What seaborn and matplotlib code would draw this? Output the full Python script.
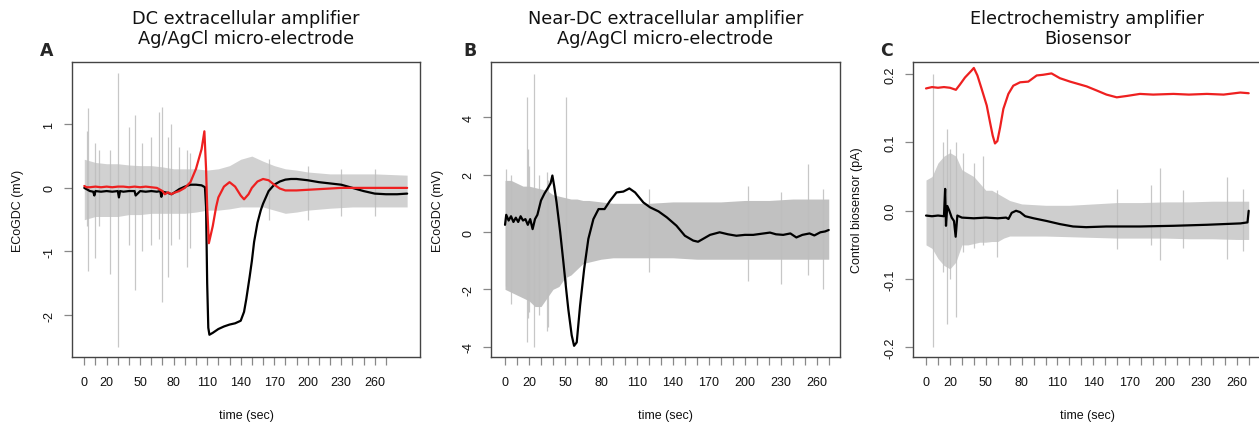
import numpy as np
import pandas as pd
import matplotlib
matplotlib.use("Agg")
import matplotlib.pyplot as plt
import seaborn as sns

# ---------------- data ----------------
# Panel A: DC extracellular amplifier
tA_black = [0,5,8,9,10,15,20,25,30,31,32,35,40,45,46,50,55,60,65,68,69,70,75,78,80,85,90,95,100,105,108,109,110,111,112,115,120,125,130,135,140,143,145,148,150,152,155,158,160,165,170,175,180,185,190,200,210,220,230,240,250,260,270,280,289]
vA_black = [0.0,-0.05,-0.06,-0.12,-0.05,-0.06,-0.05,-0.06,-0.05,-0.15,-0.05,-0.06,-0.05,-0.05,-0.12,-0.05,-0.06,-0.05,-0.06,-0.05,-0.14,-0.06,-0.08,-0.1,-0.08,-0.02,0.02,0.05,0.05,0.04,0.01,-0.3,-1.5,-2.2,-2.31,-2.28,-2.22,-2.18,-2.15,-2.13,-2.09,-1.95,-1.75,-1.4,-1.15,-0.85,-0.55,-0.35,-0.25,-0.05,0.05,0.1,0.13,0.14,0.14,0.12,0.09,0.07,0.05,0.0,-0.05,-0.09,-0.1,-0.1,-0.09]
tA_red = [0,2,5,10,15,20,25,30,35,40,45,50,55,60,65,70,72,75,78,80,85,90,95,100,105,107.5,109,110,111.5,115,118,120,125,130,135,140,143,147,150,155,160,165,170,175,180,190,200,210,220,230,250,270,289]
vA_red = [0.03,0.01,0.01,0.02,0.01,0.02,0.01,0.02,0.02,0.01,0.02,0.01,0.02,0.01,0.0,-0.05,-0.1,-0.07,-0.1,-0.08,-0.05,0.0,0.09,0.3,0.61,0.89,0.3,-0.3,-0.87,-0.6,-0.3,-0.15,0.02,0.09,0.02,-0.12,-0.18,-0.1,0.0,0.1,0.14,0.12,0.05,-0.01,-0.04,-0.04,-0.03,-0.02,-0.01,0.0,0.0,0.0,0.0]
tA_env = [0,10,20,30,40,50,60,70,80,90,100,110,120,130,140,150,160,170,180,190,200,220,240,260,289]
uA_env = [0.45,0.4,0.38,0.38,0.36,0.35,0.35,0.33,0.3,0.3,0.3,0.28,0.3,0.35,0.45,0.5,0.42,0.35,0.3,0.28,0.25,0.22,0.22,0.22,0.2]
lA_env = [-0.5,-0.45,-0.45,-0.45,-0.42,-0.42,-0.4,-0.4,-0.4,-0.4,-0.38,-0.35,-0.35,-0.33,-0.3,-0.3,-0.3,-0.35,-0.4,-0.38,-0.35,-0.32,-0.3,-0.3,-0.3]
tA_spk = [2,3,10,13,23,30,40,45,52,60,67,70,75,78,85,92,95,165,200,230,260]
uA_spk = [0.9,1.25,0.7,0.6,0.6,1.8,0.95,1.15,0.7,0.8,1.2,1.27,0.8,1.0,0.65,0.6,0.55,0.45,0.35,0.3,0.3]
lA_spk = [-0.6,-1.3,-1.1,-0.6,-1.35,-2.5,-0.9,-1.6,-1.0,-0.9,-0.8,-1.8,-1.4,-0.9,-0.8,-1.25,-0.95,-0.5,-0.5,-0.45,-0.45]

# Panel B: Near-DC extracellular amplifier
tB_black = [0,1,3,5,7,9,11,13,15,17,19,21,23,25,27,30,33,36,38,39.5,41,43,46,48.7,51,52.8,55.6,57.6,59.8,62.6,66,69.5,73.7,78,83,87.6,93,98.7,103.7,108.5,115.4,121,128,135,143,150,157,161,166,171,179,186,193,200,207,214,221,226,232,238,243,248,254,258,263,267,270]
vB_black = [0.25,0.6,0.4,0.55,0.35,0.5,0.35,0.55,0.4,0.45,0.25,0.45,0.1,0.45,0.6,1.1,1.35,1.55,1.7,1.97,1.6,1.03,0.0,-1.06,-2.0,-2.7,-3.6,-3.97,-3.85,-2.57,-1.29,-0.24,0.45,0.8,0.8,1.09,1.38,1.41,1.52,1.38,1.03,0.86,0.72,0.51,0.22,-0.13,-0.3,-0.34,-0.22,-0.1,-0.01,-0.08,-0.13,-0.1,-0.1,-0.06,-0.02,-0.08,-0.1,-0.05,-0.19,-0.1,-0.05,-0.12,-0.01,0.02,0.07]
tB_env = [0,5,10,15,20,25,30,35,40,45,50,55,60,65,70,80,90,100,120,140,160,180,200,220,240,260,270]
uB_env = [1.8,1.8,1.7,1.6,1.6,1.55,1.5,1.45,1.3,1.25,1.2,1.15,1.15,1.1,1.1,1.05,1.0,1.0,1.0,1.05,1.05,1.05,1.1,1.1,1.15,1.15,1.15]
lB_env = [-2.0,-2.1,-2.2,-2.3,-2.4,-2.6,-2.6,-2.3,-2.0,-1.9,-1.6,-1.5,-1.3,-1.1,-1.05,-0.95,-0.9,-0.9,-0.9,-0.9,-0.95,-0.95,-0.95,-0.95,-0.95,-0.95,-0.95]
tB_spk = [1,5,18,19,20,24.5,28,35,36,51,120,203,230,252.5,265.6]
uB_spk = [2.2,2.0,4.7,2.9,2.3,5.5,2.0,2.1,1.8,4.7,1.5,1.6,1.4,2.37,1.5]
lB_spk = [-1.9,-2.5,-3.85,-3.0,-2.8,-4.0,-2.9,-3.44,-3.3,-1.8,-1.4,-1.7,-1.8,-1.5,-2.0]

# Panel C: Electrochemistry amplifier / biosensor
tC_red = [0,5,10,15,20,25,28.5,32.6,38,40,43,46.6,50.8,53.6,55.8,57.7,59.7,62,64.7,68.9,73,78.7,85.6,92.6,98,105,112,120.5,134.4,142.8,151,159.6,168,179,190,207,220,235,249,263,270]
vC_red = [0.179,0.181,0.18,0.181,0.18,0.177,0.185,0.195,0.205,0.209,0.198,0.178,0.154,0.129,0.11,0.0985,0.102,0.122,0.149,0.171,0.183,0.188,0.189,0.198,0.199,0.201,0.194,0.189,0.182,0.176,0.17,0.166,0.168,0.171,0.17,0.171,0.17,0.171,0.17,0.173,0.172]
tC_black = [0,5,10,15,16,16.7,17.8,19.5,21.5,23.4,24.8,26.2,30,40,50,60,67,69,71.7,75.3,78.7,83,90,101,112,123,134,151,179,207,235,263,269,270]
vC_black = [-0.007,-0.008,-0.007,-0.008,0.032,-0.022,0.007,0.0,-0.01,-0.015,-0.038,-0.007,-0.01,-0.011,-0.01,-0.011,-0.01,-0.012,-0.003,0.0,-0.002,-0.008,-0.011,-0.015,-0.0195,-0.023,-0.024,-0.023,-0.023,-0.022,-0.0205,-0.0185,-0.017,0.0]
tC_env = [0,5,10,15,20,25,30,35,40,45,50,55,60,65,70,80,100,120,140,160,180,200,220,240,260,270]
uC_env = [0.045,0.05,0.07,0.08,0.085,0.08,0.06,0.055,0.05,0.04,0.03,0.03,0.025,0.02,0.015,0.01,0.008,0.008,0.01,0.012,0.012,0.013,0.013,0.014,0.014,0.014]
lC_env = [-0.05,-0.055,-0.07,-0.08,-0.085,-0.075,-0.05,-0.05,-0.048,-0.046,-0.046,-0.045,-0.045,-0.04,-0.037,-0.037,-0.037,-0.038,-0.039,-0.04,-0.04,-0.04,-0.041,-0.041,-0.042,-0.042]
tC_spk = [6,14.5,17.3,20,24.8,31,40,48,59,160,188,196,215,251.6,265.6]
uC_spk = [0.2,0.1,0.12,0.09,0.1,0.085,0.07,0.08,0.03,0.032,0.037,0.063,0.03,0.049,0.032]
lC_spk = [-0.2,-0.09,-0.166,-0.1,-0.156,-0.06,-0.055,-0.05,-0.068,-0.056,-0.05,-0.072,-0.055,-0.071,-0.059]

x_ticks = list(range(0, 280, 10))
x_tick_labels = [0, 20, 50, 80, 110, 140, 170, 200, 230, 260]
titles = ["DC extracellular amplifier\nAg/AgCl micro-electrode",
          "Near-DC extracellular amplifier\nAg/AgCl micro-electrode",
          "Electrochemistry amplifier\nBiosensor"]
letters = ["A", "B", "C"]
ylabels = ["ECoGDC (mV)", "ECoGDC (mV)", "Control biosensor (pA)"]
y_ticks = [[-2, -1, 0, 1], [-4, -2, 0, 2, 4], [-0.2, -0.1, 0.0, 0.1, 0.2]]
y_tick_labels = [["-2", "-1", "0", "1"], ["-4", "-2", "0", "2", "4"],
                 ["-0.2", "-0.1", "0.0", "0.1", "0.2"]]
xlabel = "time (sec)"

# ---------------- styling ----------------
sns.set_theme(style="white")
plt.rcParams["font.family"] = ["Liberation Sans", "DejaVu Sans"]

W, H = 1259, 427
fig = plt.figure(figsize=(W / 100, H / 100), dpi=100)
fig.patch.set_facecolor("white")

box_px = [(72, 420), (491, 840), (913, 1261.6)]
top_px, bot_px = 63, 358
xlims = [(-11.0, 300.5), (-11.7, 279.4), (-10.9, 280.8)]
ylims = [(-2.66, 1.98), (-4.36, 5.93), (-0.214, 0.2177)]

panels = [
    dict(black=(tA_black, vA_black), red=(tA_red, vA_red),
         env=(tA_env, uA_env, lA_env), spk=(tA_spk, uA_spk, lA_spk), galpha=0.7),
    dict(black=(tB_black, vB_black), red=None,
         env=(tB_env, uB_env, lB_env), spk=(tB_spk, uB_spk, lB_spk), galpha=0.95),
    dict(black=(tC_black, vC_black), red=(tC_red, vC_red),
         env=(tC_env, uC_env, lC_env), spk=(tC_spk, uC_spk, lC_spk), galpha=0.75),
]

GREY = "#bebebe"
RED = "#ee2020"

for i, p in enumerate(panels):
    l, r = box_px[i]
    ax = fig.add_axes([l / W, 1 - bot_px / H, (r - l) / W, (bot_px - top_px) / H])
    ax.set_facecolor("white")

    te, ue, le = p["env"]
    ax.fill_between(te, le, ue, color=GREY, alpha=p["galpha"], lw=0, zorder=1)
    ts, us, ls = p["spk"]
    ax.vlines(ts, ls, us, color=GREY, lw=0.9, alpha=0.85, zorder=1)

    tb, vb = p["black"]
    sns.lineplot(x=tb, y=vb, ax=ax, color="black", lw=1.6, zorder=3)
    if p["red"] is not None:
        tr, vr = p["red"]
        sns.lineplot(x=tr, y=vr, ax=ax, color=RED, lw=1.6, zorder=4)

    ax.set_xlim(*xlims[i])
    ax.set_ylim(*ylims[i])
    ax.set_xticks(x_ticks)
    ax.set_xticklabels([str(v) if v in x_tick_labels else "" for v in x_ticks])
    ax.set_yticks(y_ticks[i])
    ax.set_yticklabels(y_tick_labels[i], rotation=90, va="center")
    ax.set_xlabel("")
    ax.set_ylabel("")
    ax.tick_params(axis="both", which="both", direction="out", length=6, width=0.9,
                   color="#888888", labelsize=9, labelcolor="#111111",
                   bottom=True, left=True)
    ax.tick_params(axis="x", pad=8)
    ax.tick_params(axis="y", pad=6)
    for s in ax.spines.values():
        s.set_visible(True)
        s.set_color("#444444")
        s.set_linewidth(1.0)

    cx = (l + r) / 2
    t1, t2 = titles[i].split("\n")
    fig.text(cx / W, 1 - 23.5 / H, t1, ha="center", va="baseline",
             fontsize=12.8, family="DejaVu Sans", color="#111111")
    fig.text(cx / W, 1 - 44.5 / H, t2, ha="center", va="baseline",
             fontsize=12.8, family="DejaVu Sans", color="#111111")
    fig.text([40, 463, 880][i] / W, 1 - 56.5 / H, letters[i], ha="left",
             va="baseline", fontsize=12.5, fontweight="bold", family="DejaVu Sans")
    fig.text([18, 438, 857][i] / W, 1 - 210.5 / H, ylabels[i], rotation=90,
             ha="center", va="center", fontsize=9, color="#111111")
    fig.text((l + r) / 2 / W, 1 - 416 / H, xlabel, ha="center", va="center",
             fontsize=9, color="#111111")

fig.savefig("out.png", dpi=100, facecolor="white")
